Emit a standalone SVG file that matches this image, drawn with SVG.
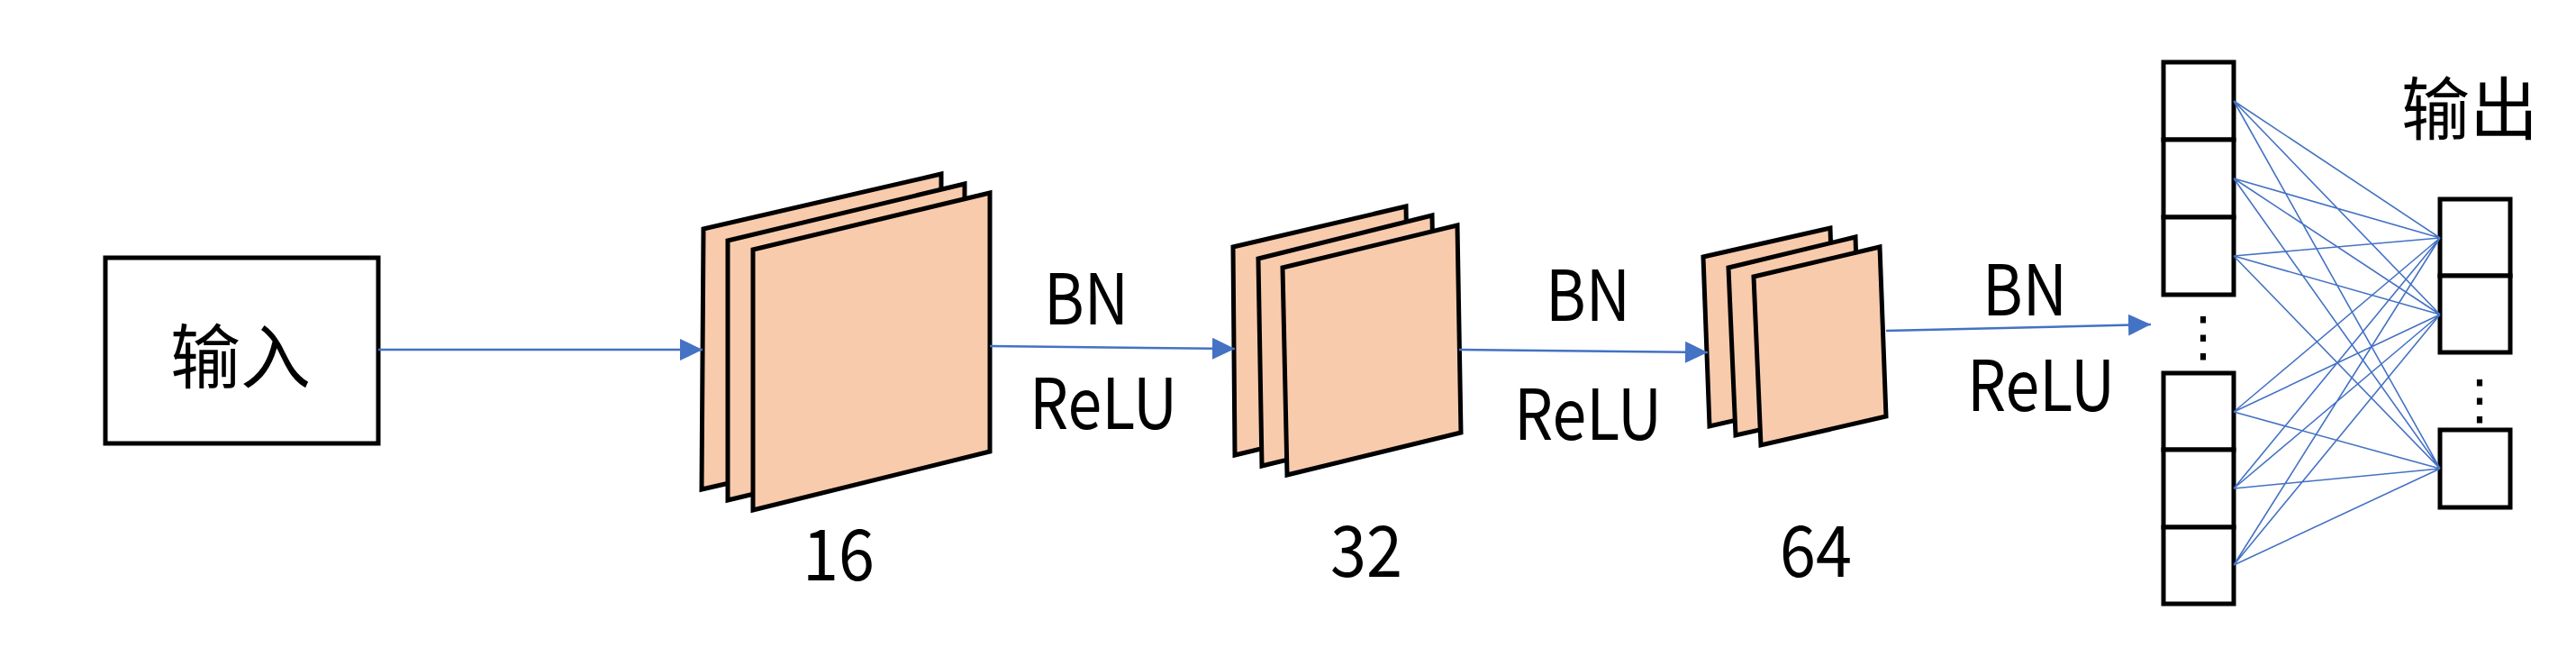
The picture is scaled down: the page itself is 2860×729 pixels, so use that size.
<svg xmlns="http://www.w3.org/2000/svg" width="2860" height="729" viewBox="0 0 2860 729">
<style>
.sheet{fill:#F8CBAD;stroke:#000;stroke-width:5;stroke-linejoin:miter}
.box{fill:#fff;stroke:#000;stroke-width:5}
.arrow{stroke:#4472C4;stroke-width:2.5;fill:none}
.link{stroke:#4472C4;stroke-width:1.6;fill:none}
.lbl{font-family:"Noto Sans CJK SC","Liberation Sans",sans-serif;fill:#000;text-anchor:middle}
.dots{font-family:"DejaVu Sans",sans-serif;fill:#000;text-anchor:middle}
</style>
<defs>
<marker id="ah" viewBox="0 0 25 24" refX="25" refY="12" markerWidth="25" markerHeight="24" markerUnits="userSpaceOnUse" orient="auto">
<path d="M0,0 L25,12 L0,24 Z" fill="#4472C4"/>
</marker>
</defs>
<rect width="2860" height="729" fill="#fff"/>

<g id="input">
<rect class="box" x="117" y="286" width="303" height="206"/>
<text class="lbl" x="267" y="425" font-size="78">输入</text>
</g>

<g id="conv16">
<polygon class="sheet" points="781,254 1045,193 1045,482 779,543"/>
<polygon class="sheet" points="808,267 1071,204 1071,492 808,555"/>
<polygon class="sheet" points="836,277 1099,214 1099,501 836,566"/>
<text class="lbl" x="931" y="644" font-size="78" textLength="80" lengthAdjust="spacingAndGlyphs">16</text>
</g>

<g id="conv32">
<polygon class="sheet" points="1369,274 1561,229 1565,458 1371,505"/>
<polygon class="sheet" points="1397,287 1590,239 1594,470 1401,517"/>
<polygon class="sheet" points="1424,297 1618,250 1622,480 1429,527"/>
<text class="lbl" x="1517" y="640" font-size="78" textLength="80" lengthAdjust="spacingAndGlyphs">32</text>
</g>

<g id="conv64">
<polygon class="sheet" points="1891,285 2032,253 2038,441 1898,473"/>
<polygon class="sheet" points="1919,297 2060,263 2066,452 1927,483"/>
<polygon class="sheet" points="1947,307 2087,274 2094,462 1955,494"/>
<text class="lbl" x="2016" y="640" font-size="78" textLength="80" lengthAdjust="spacingAndGlyphs">64</text>
</g>

<g id="fc">
<rect class="box" x="2402" y="69" width="78" height="86"/>
<rect class="box" x="2402" y="155" width="78" height="86"/>
<rect class="box" x="2402" y="241" width="78" height="86"/>
<text class="dots" x="2446" y="394" font-size="60">⋮</text>
<rect class="box" x="2402" y="414" width="78" height="85"/>
<rect class="box" x="2402" y="499" width="78" height="86"/>
<rect class="box" x="2402" y="585" width="78" height="85"/>
</g>

<g id="output">
<rect class="box" x="2709" y="221" width="78" height="85"/>
<rect class="box" x="2709" y="306" width="78" height="85"/>
<text class="dots" x="2753" y="464" font-size="60">⋮</text>
<rect class="box" x="2709" y="477" width="78" height="86"/>
<text class="lbl" x="2742" y="149" font-size="76">输出</text>
</g>

<g id="labels">
<text class="lbl" x="1206" y="360" font-size="78" textLength="94" lengthAdjust="spacingAndGlyphs">BN</text>
<text class="lbl" x="1225" y="476" font-size="78" textLength="164" lengthAdjust="spacingAndGlyphs">ReLU</text>
<text class="lbl" x="1763" y="356" font-size="78" textLength="94" lengthAdjust="spacingAndGlyphs">BN</text>
<text class="lbl" x="1763" y="488" font-size="78" textLength="164" lengthAdjust="spacingAndGlyphs">ReLU</text>
<text class="lbl" x="2248" y="350" font-size="78" textLength="94" lengthAdjust="spacingAndGlyphs">BN</text>
<text class="lbl" x="2266" y="456" font-size="78" textLength="164" lengthAdjust="spacingAndGlyphs">ReLU</text>
</g>

<g id="connectors">
<line class="arrow" x1="420" y1="388" x2="780" y2="388" marker-end="url(#ah)"/>
<line class="arrow" x1="1099" y1="384" x2="1371" y2="387" marker-end="url(#ah)"/>
<line class="arrow" x1="1620" y1="388" x2="1896" y2="391" marker-end="url(#ah)"/>
<line class="arrow" x1="2094" y1="367" x2="2388" y2="360" marker-end="url(#ah)"/>
<path class="link" d="M2480,112 L2709,264 M2480,112 L2709,349 M2480,112 L2709,520
M2480,198 L2709,264 M2480,198 L2709,349 M2480,198 L2709,520
M2480,284 L2709,264 M2480,284 L2709,349 M2480,284 L2709,520
M2480,457 L2709,264 M2480,457 L2709,349 M2480,457 L2709,520
M2480,542 L2709,264 M2480,542 L2709,349 M2480,542 L2709,520
M2480,627 L2709,264 M2480,627 L2709,349 M2480,627 L2709,520"/>
</g>
</svg>
